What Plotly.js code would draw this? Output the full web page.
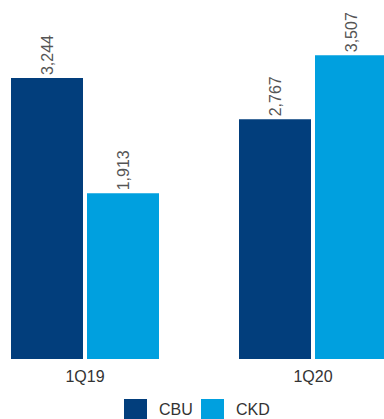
<!DOCTYPE html>
<html>
<head>
<meta charset="utf-8">
<script src="https://cdn.plot.ly/plotly-3.0.1.min.js"></script>
<style>html,body{margin:0;padding:0;background:#fff;}#chart{width:384px;height:419px;}</style>
</head>
<body>
<div id="chart"></div>
<script>
const categories = ["1Q19", "1Q20"];
const seriesNames = ["CBU", "CKD"];
const cbuValues = [3244, 2767];
const ckdValues = [1913, 3507];
const colors = ["#023e7c", "#00a0df"];

const W = 384, H = 419, B = 60;
const plotH = H - B;
const font = "Liberation Sans, Arial, sans-serif";

function barTrace(name, vals, color) {
  return {
    type: "bar", name: name, x: categories, y: vals,
    marker: {color: color},
    text: vals.map(v => v.toLocaleString("en-US")),
    textposition: "outside", textangle: -90, cliponaxis: false,
    textfont: {family: font, size: 16, color: "#555555"},
    hoverinfo: "none", showlegend: false
  };
}

const data = [
  barTrace(seriesNames[0], cbuValues, colors[0]),
  barTrace(seriesNames[1], ckdValues, colors[1])
];

// legend drawn with shapes/annotations to match large square swatches
const legX = [124, 201];
const shapes = [], annotations = [];
seriesNames.forEach((n, i) => {
  shapes.push({type: "rect", xref: "paper", yref: "paper",
    x0: legX[i] / W, x1: (legX[i] + 23) / W,
    y0: (plotH - 399) / plotH, y1: (plotH - 422) / plotH,
    fillcolor: colors[i], line: {width: 0}});
  annotations.push({xref: "paper", yref: "paper", x: (legX[i] + 34) / W, y: (plotH - 419) / plotH,
    xanchor: "left", yanchor: "bottom", text: n, showarrow: false, borderpad: 0,
    font: {family: font, size: 16, color: "#333333"}});
});

const layout = {
  width: W, height: H,
  margin: {l: 0, r: 0, t: 0, b: B, pad: 0},
  paper_bgcolor: "#fff", plot_bgcolor: "#fff",
  barmode: "group", bargap: 1/3, bargroupgap: 0.0526,
  xaxis: {type: "category", range: [-0.3728, 1.3114], showgrid: false, zeroline: false,
    showline: false, ticks: "", ticklabelstandoff: 6,
    tickfont: {family: font, size: 16, color: "#333333"}, fixedrange: true},
  yaxis: {range: [0, 4145], visible: false, fixedrange: true},
  showlegend: false,
  shapes: shapes, annotations: annotations
};

Plotly.newPlot("chart", data, layout, {displayModeBar: false, staticPlot: true});
</script>
</body>
</html>
